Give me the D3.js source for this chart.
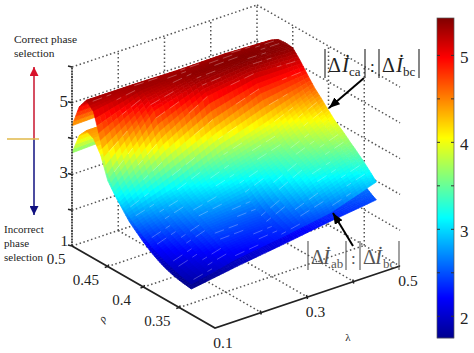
<!DOCTYPE html>
<html lang="en">
<head>
<meta charset="UTF-8">
<script src="https://d3js.org/d3.v7.min.js"></script>
<style>
    html, body {margin: 0; padding: 0; background: #fff;}
    svg {display: block;}
    text {font-family: "Liberation Serif", serif; fill: #222;}
</style>
</head>
<body>
<svg class="chart" width="474" height="353"></svg>
<script type="text/javascript">
    // values
    var lambdas = [0.1, 0.2, 0.3, 0.4, 0.5];
    var rhos = [0.5, 0.49, 0.48, 0.47, 0.46, 0.45, 0.44, 0.43, 0.42, 0.41, 0.4, 0.39, 0.38, 0.37, 0.36, 0.35, 0.34, 0.333];

    // one row per rho, one column per lambda
    var upper_ca = [
        [4.36, 4.40, 4.50, 4.55, 4.60],
        [5.00, 5.00, 5.00, 5.00, 5.00],
        [5.30, 5.30, 5.28, 5.30, 5.25],
        [5.10, 5.32, 5.35, 5.38, 5.38],
        [4.40, 5.15, 5.38, 5.42, 5.40],
        [3.60, 4.90, 5.30, 5.40, 5.38],
        [3.20, 4.25, 5.00, 5.20, 5.15],
        [2.95, 3.65, 4.25, 4.75, 4.88],
        [2.75, 3.13, 3.70, 4.10, 4.62],
        [2.58, 2.95, 3.42, 3.80, 4.42],
        [2.42, 2.83, 3.20, 3.60, 4.20],
        [2.28, 2.72, 2.98, 3.48, 4.00],
        [2.17, 2.62, 2.75, 3.38, 3.85],
        [2.08, 2.52, 2.58, 3.25, 3.67],
        [2.00, 2.42, 2.47, 3.10, 3.50],
        [1.93, 2.30, 2.40, 2.90, 3.32],
        [1.88, 2.20, 2.35, 2.70, 3.12],
        [1.85, 2.14, 2.32, 2.54, 2.97]
    ];
    var lower_ab = [
        [3.60, 3.65, 3.70, 3.75, 3.80],
        [4.20, 4.20, 4.20, 4.20, 4.20],
        [4.45, 4.45, 4.45, 4.45, 4.45],
        [4.35, 4.40, 4.50, 4.55, 4.60],
        [4.00, 4.20, 4.40, 4.60, 4.70],
        [3.40, 3.90, 4.15, 4.40, 4.60],
        [3.10, 3.60, 3.85, 4.15, 4.40],
        [2.85, 3.30, 3.55, 3.85, 4.15],
        [2.60, 3.00, 3.30, 3.60, 3.90],
        [2.42, 2.75, 3.05, 3.35, 3.70],
        [2.25, 2.55, 2.85, 3.15, 3.50],
        [2.10, 2.38, 2.65, 2.95, 3.30],
        [1.98, 2.22, 2.50, 2.78, 3.15],
        [1.88, 2.10, 2.35, 2.62, 3.00],
        [1.81, 2.02, 2.25, 2.50, 2.85],
        [1.76, 1.97, 2.18, 2.42, 2.70],
        [1.73, 1.94, 2.13, 2.35, 2.55],
        [1.71, 1.92, 2.10, 2.30, 2.47]
    ];

    var rho_ticks = [0.5, 0.45, 0.4, 0.35, 0.3];
    var lambda_ticks = [0.1, 0.2, 0.3, 0.4, 0.5];
    var z_ticks = [1, 2, 3, 4, 5, 6];
    var rho_labels = ['0.5', '0.45', '0.4', '0.35'];
    var lambda_labels = ['0.1', '0.3', '0.5'];
    var z_labels = ['1', '3', '5'];
    var bar_domain = [1.75, 5.43];
    var bar_ticks = [2, 3, 4, 5];
    var bar_minor_ticks = [2.5, 3.5, 4.5];

    var svg = d3.select('.chart');

    // oblique projection: each data axis moves the point along its own screen direction
    var rho_x = d3.scaleLinear().domain([0.5, 0.3]).range([0, 143]);
    var rho_y = d3.scaleLinear().domain([0.5, 0.3]).range([0, 82]);
    var lam_x = d3.scaleLinear().domain([0.1, 0.5]).range([0, 185]);
    var lam_y = d3.scaleLinear().domain([0.1, 0.5]).range([0, -62]);
    var z_y = d3.scaleLinear().domain([1, 6]).range([0, -179]);

    function project(lam, rho, z) {
        return [72 + rho_x(rho) + lam_x(lam), 246 + rho_y(rho) + lam_y(lam) + z_y(z)];
    }

    var jet = d3.scaleLinear()
        .domain([0, 0.125, 0.375, 0.625, 0.875, 1].map(d => bar_domain[0] + d * (bar_domain[1] - bar_domain[0])))
        .range(['#00008f', '#0000ff', '#00ffff', '#ffff00', '#ff0000', '#800000'])
        .clamp(true);

    // dotted box behind the surfaces
    var grid = svg.append('g')
        .attr('fill', 'none').attr('stroke', '#555').attr('stroke-width', 1.5)
        .attr('stroke-dasharray', '1.5 2.5');

    function seg(a, b) {
        grid.append('path').attr('d', d3.line()([a, b]));
    }

    z_ticks.forEach(z => {
        seg(project(0.1, 0.5, z), project(0.5, 0.5, z));
        seg(project(0.5, 0.5, z), project(0.5, 0.3, z));
    });
    lambda_ticks.slice(1, 5).forEach(l => seg(project(l, 0.5, 1), project(l, 0.5, 6)));
    rho_ticks.slice(1, 4).forEach(r => seg(project(0.5, r, 1), project(0.5, r, 6)));
    lambda_ticks.slice(1, 4).forEach(l => seg(project(l, 0.5, 1), project(l, 0.3, 1)));
    rho_ticks.slice(1, 4).forEach(r => seg(project(0.1, r, 1), project(0.5, r, 1)));

    // surfaces, shaded smoothly between table values like matlab's interp shading
    function draw_surface(table, speckle) {
        var g = svg.append('g');
        var sub_r = 4, sub_l = 10;
        var rows = d3.range(table.length);
        var value = function (i, l) {
            var i0 = Math.min(Math.floor(i), table.length - 2);
            var a = d3.scaleLinear().domain(lambdas).range(table[i0])(l);
            var b = d3.scaleLinear().domain(lambdas).range(table[i0 + 1])(l);
            return a + (b - a) * (i - i0);
        };
        var rho_of = d3.scaleLinear().domain(rows).range(rhos);
        var lam_steps = d3.range(4 * sub_l + 1).map(k => 0.5 - k * 0.4 / (4 * sub_l));
        var dashes = [];
        d3.range((table.length - 1) * sub_r).forEach(k => {
            var i0 = k / sub_r, i1 = (k + 1) / sub_r;
            d3.pairs(lam_steps).forEach((p, j) => {
                var z00 = value(i0, p[0]), z01 = value(i0, p[1]), z10 = value(i1, p[0]), z11 = value(i1, p[1]);
                var pts = [
                    project(p[0], rho_of(i0), z00),
                    project(p[1], rho_of(i0), z01),
                    project(p[1], rho_of(i1), z11),
                    project(p[0], rho_of(i1), z10)
                ];
                var c = jet((z00 + z01 + z10 + z11) / 4);
                g.append('polygon')
                    .attr('points', pts.map(d => d.join(',')).join(' '))
                    .attr('fill', c).attr('stroke', c).attr('stroke-width', 0.7);
                // the pale moire dashes of the printed surface, on a regular stagger of mesh cells
                if (speckle && k > 6 && k % 3 == 0 && j % 3 != 0 && (Math.floor(j / 5) + Math.floor(k / 6)) % 2 == 0) {
                    dashes.push([pts[0], pts[1]]);
                }
            });
        });
        g.selectAll('path.dash').data(dashes).enter().append('path')
            .attr('class', 'dash')
            .attr('d', d3.line())
            .attr('stroke', '#fff').attr('stroke-opacity', 0.35).attr('stroke-width', 0.8);
    }
    draw_surface(lower_ab, false);
    draw_surface(upper_ca, true);

    // solid axes
    var axes = svg.append('g').attr('fill', 'none').attr('stroke', '#222');
    axes.append('path').attr('stroke-width', 1.8)
        .attr('d', d3.line()([project(0.1, 0.5, 1), project(0.1, 0.3, 1), project(0.5, 0.3, 1)]));
    axes.append('path').attr('stroke-width', 1.6).attr('stroke-dasharray', '2 0.8')
        .attr('d', d3.line()([project(0.1, 0.5, 1), project(0.1, 0.5, 6)]));
    rho_ticks.slice(1, 4).forEach(r => {
        var p = project(0.1, r, 1);
        axes.append('path').attr('stroke-width', 1.5).attr('d', d3.line()([[p[0] - 3, p[1] + 1], [p[0], p[1]], [p[0] + 1, p[1] - 2]]));
    });
    lambda_ticks.slice(1, 4).forEach(l => {
        var p = project(l, 0.3, 1);
        axes.append('path').attr('stroke-width', 1.5).attr('d', d3.line()([[p[0] - 1, p[1] - 2], [p[0], p[1] + 2]]));
    });
    z_ticks.forEach(z => {
        var p = project(0.1, 0.5, z);
        axes.append('path').attr('stroke-width', 1.5).attr('d', d3.line()([[p[0] - 4, p[1] - 1], [p[0], p[1]]]));
    });

    // axis labels
    function label(t, x, y, size, anchor) {
        return svg.append('text').attr('x', x).attr('y', y)
            .attr('font-size', size).attr('text-anchor', anchor || 'start').text(t);
    }
    rho_labels.forEach((t, i) => {
        var p = project(0.1, rho_ticks[i], 1);
        label(t, p[0] - (i == 0 ? 16 : 22), p[1] + 18, 15, 'middle');
    });
    lambda_labels.forEach(t => {
        var p = project(+t, 0.3, 1);
        label(t, p[0] + 8, p[1] + 20, 15.5, 'middle');
    });
    z_labels.forEach(t => {
        var p = project(0.1, 0.5, +t);
        label(t, p[0] - 4, p[1] + (t == '1' ? 0 : 4), t == '1' ? 15 : 17, 'end');
    });
    label('\u03c1', 103, 322, 11, 'middle').attr('font-style', 'italic')
        .attr('transform', 'rotate(-50 103 319)');
    label('\u03bb', 348, 341, 11, 'middle');

    // colorbar
    var bar_y = d3.scaleLinear().domain(bar_domain).range([338, 18]);
    var bar = svg.append('g');
    bar.selectAll('rect').data(d3.range(bar_y.range()[1], bar_y.range()[0])).enter().append('rect')
        .attr('x', 437).attr('width', 17)
        .attr('y', d => d).attr('height', 1.2)
        .attr('fill', d => jet(bar_y.invert(d + 0.5)));
    bar.append('rect').attr('x', 437).attr('y', 18).attr('width', 17).attr('height', 320)
        .attr('fill', 'none').attr('stroke', '#555').attr('stroke-width', 0.7);
    var bar_axis = svg.append('g').attr('transform', 'translate(454,2)')
        .call(d3.axisRight(bar_y).tickValues(bar_ticks).tickSize(0).tickPadding(6).tickFormat(d3.format('d')));
    bar_axis.select('.domain').remove();
    bar_axis.selectAll('text').attr('font-size', 17)
        .style('font-family', '"Liberation Serif", serif').attr('fill', '#222');
    bar_ticks.concat(bar_minor_ticks).forEach(v => {
        bar.append('path').attr('stroke', '#333').attr('stroke-width', 1)
            .attr('d', d3.line()([[437, bar_y(v)], [440, bar_y(v)]]));
        bar.append('path').attr('stroke', '#333').attr('stroke-width', 1)
            .attr('d', d3.line()([[451, bar_y(v)], [454, bar_y(v)]]));
    });

    // left hand annotation
    var defs = svg.append('defs');
    function marker(id, color, w, h) {
        defs.append('marker').attr('id', id).attr('markerUnits', 'userSpaceOnUse')
            .attr('markerWidth', h).attr('markerHeight', w).attr('refX', h).attr('refY', w / 2)
            .attr('orient', 'auto')
            .append('path').attr('d', `M0,0L${h},${w / 2}L0,${w}Z`).attr('fill', color);
    }
    marker('head_red', '#d8122a', 9, 9);
    marker('head_blue', '#101080', 9, 9);
    marker('head_black', '#000', 9, 11);

    svg.append('path').attr('d', 'M34,139L34,67').attr('stroke', '#c8142e').attr('stroke-width', 1.5).attr('marker-end', 'url(#head_red)');
    svg.append('path').attr('d', 'M34,139L34,215').attr('stroke', '#101080').attr('stroke-width', 1.5).attr('marker-end', 'url(#head_blue)');
    svg.append('path').attr('d', 'M7,139L39,139').attr('stroke', '#e0b84a').attr('stroke-width', 1.5);

    label('Correct phase', 14, 43, 11.4);
    label('selection', 14, 57, 11.4);
    label('Incorrect', 4, 233, 11);
    label('phase', 4, 247, 11);
    label('selection', 4, 261, 11);

    // ratio labels
    function ratio(sub1, sub2, y, xs, color) {
        var g = svg.append('g');
        xs.bars.forEach(b => {
            g.append('path').attr('stroke', color).attr('stroke-width', 1.1)
                .attr('d', d3.line()([[b, y - 23], [b, y + 6]]));
        });
        [[xs.d1, xs.i1, sub1, xs.s1], [xs.d2, xs.i2, sub2, xs.s2]].forEach(p => {
            g.append('text').attr('x', p[0]).attr('y', y).attr('font-size', 20).style('fill', color).text('\u0394');
            g.append('text').attr('x', p[1]).attr('y', y).attr('font-size', 21).attr('font-style', 'italic').style('fill', color).text('\u0130');
            g.append('text').attr('x', p[3]).attr('y', y + 4).attr('font-size', 13).style('fill', color).text(p[2]);
        });
        g.append('text').attr('x', xs.colon).attr('y', y).attr('font-size', 17).style('fill', color).text(':');
    }
    ratio('ca', 'bc', 72, {bars: [325, 365, 379, 419], d1: 328, i1: 342, s1: 349, d2: 382, i2: 396, s2: 403, colon: 370}, '#222');
    ratio('ab', 'bc', 264, {bars: [308, 346, 360, 399], d1: 311, i1: 323, s1: 331, d2: 363, i2: 375, s2: 383, colon: 351}, '#555');

    svg.append('path').attr('d', 'M364,78L329,108').attr('stroke', '#000').attr('stroke-width', 2).attr('marker-end', 'url(#head_black)');
    svg.append('path').attr('d', 'M353,246L333,213').attr('stroke', '#000').attr('stroke-width', 2).attr('marker-end', 'url(#head_black)');
</script>
</body>
</html>
